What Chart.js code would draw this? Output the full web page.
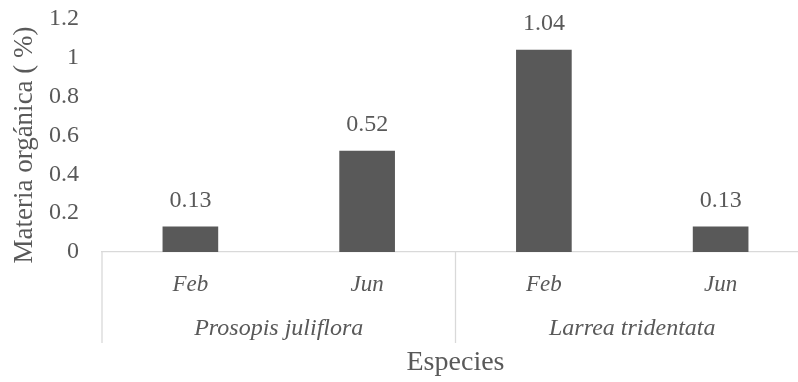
<!DOCTYPE html>
<html>
<head>
<meta charset="utf-8">
<script src="https://cdn.jsdelivr.net/npm/chart.js@4/dist/chart.umd.min.js"></script>
<style>
  html, body { margin: 0; padding: 0; background: #fff; overflow: hidden; }
  #wrap { position: absolute; left: 0; top: 0; width: 812px; height: 382px; }
</style>
</head>
<body>
<div id="wrap"><canvas id="c" width="812" height="382"></canvas></div>
<script>
// data
const months = ['Feb', 'Jun', 'Feb', 'Jun'];
const species = ['Prosopis juliflora', 'Larrea tridentata'];
const materia = [0.13, 0.52, 1.04, 0.13];
const yMin = 0, yMax = 1.2, yStep = 0.2;
const yTitle = 'Materia orgánica ( %)';

const FONT = "'Palatino Linotype', 'Book Antiqua', Palatino, 'Liberation Serif', serif";
const INK = '#595959';
const LINE = '#d9d9d9';

/* value labels above each bar */
const barLabels = {
  id: 'barLabels',
  afterDatasetsDraw(chart) {
    const ctx = chart.ctx;
    const meta = chart.getDatasetMeta(0);
    ctx.save();
    ctx.font = '24px ' + FONT;
    ctx.fillStyle = INK;
    ctx.textAlign = 'center';
    ctx.textBaseline = 'middle';
    meta.data.forEach((bar, i) => {
      ctx.fillText(String(materia[i]), bar.x, bar.y - 26);
    });
    ctx.restore();
  }
};

/* second row of the category axis: species groups + separators, and the y title */
const groupAxis = {
  id: 'groupAxis',
  afterDraw(chart) {
    const ctx = chart.ctx;
    const x = chart.scales.x;
    const top = x.top;
    const left = x.left, right = x.right;
    const mid = (x.getPixelForValue(1) + x.getPixelForValue(2)) / 2;
    ctx.save();
    ctx.strokeStyle = LINE;
    ctx.lineWidth = 1.3;
    [left, mid, right].forEach(px => {
      ctx.beginPath();
      ctx.moveTo(px, top);
      ctx.lineTo(px, top + 91);
      ctx.stroke();
    });
    ctx.font = 'italic 24px ' + FONT;
    ctx.fillStyle = INK;
    ctx.textAlign = 'center';
    ctx.textBaseline = 'middle';
    ctx.fillText(species[0], (left + mid) / 2, top + 77);
    ctx.fillText(species[1], (mid + right) / 2, top + 77);

    // y title, a bit below the plot centre like the original
    ctx.translate(32, 145);
    ctx.rotate(-Math.PI / 2);
    ctx.font = '27px ' + FONT;
    ctx.textBaseline = 'alphabetic';
    ctx.fillText(yTitle, 0, 0);
    ctx.restore();
  }
};

new Chart(document.getElementById('c'), {
  type: 'bar',
  data: {
    labels: months,
    datasets: [{ data: materia, backgroundColor: INK, borderWidth: 0, barThickness: 55 }]
  },
  options: {
    responsive: false,
    animation: false,
    devicePixelRatio: 1,
    layout: { padding: { top: 19, right: 3, left: 0, bottom: 0 } },
    plugins: { legend: { display: false }, tooltip: { enabled: false } },
    scales: {
      x: {
        grid: { display: false, drawTicks: false },
        border: { display: true, color: LINE, width: 1.3 },
        ticks: { color: INK, font: { family: FONT, size: 23, style: 'italic' }, padding: 19, maxRotation: 0 },
        title: { display: true, text: 'Especies', color: INK, font: { family: FONT, size: 28 }, padding: { top: 0, bottom: 3 } },
        afterFit(scale) { scale.height = 130; scale.paddingLeft = 0; scale.paddingRight = 0; }
      },
      y: {
        min: yMin, max: yMax,
        grid: { display: false, drawTicks: false },
        border: { display: false },
        ticks: {
          stepSize: yStep, color: INK, font: { family: FONT, size: 24 }, padding: 23,
          callback: v => String(Number(v.toFixed(1)))
        },
        afterFit(scale) { scale.width = 102; scale.paddingTop = 0; scale.paddingBottom = 0; }
      }
    }
  },
  plugins: [barLabels, groupAxis]
});
</script>
</body>
</html>
